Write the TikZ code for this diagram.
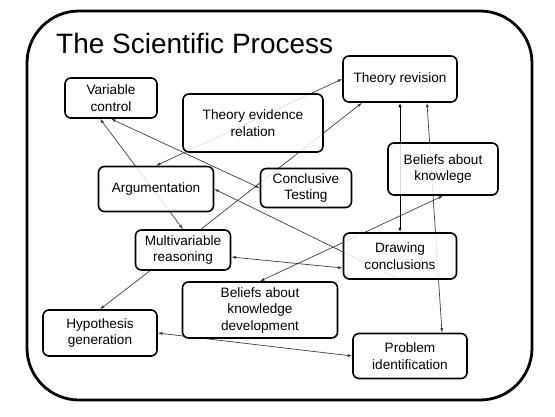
\documentclass[tikz,border=0pt]{standalone}
\usepackage{fontspec}
\setmainfont{Liberation Sans}
\usepackage{tikz}
\usetikzlibrary{arrows.meta, backgrounds}

\begin{document}
\begin{tikzpicture}[
    x=1pt, y=-1pt,
    every node/.style={font=\fontsize{13.6}{16.5}\selectfont},
    stage/.style={draw, line width=1.6pt, rounded corners=6pt, align=center,
                  fill=white, fill opacity=0.85, text opacity=1, inner sep=1pt},
    link/.style={draw=black!75, line width=0.7pt,
                 arrows={-Latex[length=4.5pt, width=3.2pt]}},
    both/.style={link, arrows={Latex[length=4.5pt, width=3.2pt]-Latex[length=4.5pt, width=3.2pt]}},
]
  \useasboundingbox (0,0) rectangle (555,416);
  \draw[line width=2.8pt, rounded corners=52pt] (27,11) rectangle (532,400);
  \node[anchor=base west, inner sep=0pt, font=\fontsize{28}{32}\selectfont] (title)
        at (56,53) {The Scientific Process};

  \node[stage, minimum width=92pt, minimum height=40pt] (varctl) at (111,98) {Variable\\control};
  \node[stage, minimum width=140pt, minimum height=58pt] (terel) at (253,123) {Theory evidence\\relation};
  \node[stage, minimum width=114pt, minimum height=46pt] (threv) at (400,79) {Theory revision};
  \node[stage, minimum width=115pt, minimum height=45pt] (argu) at (156,189) {Argumentation};
  \node[stage, minimum width=91pt, minimum height=39pt] (concl) at (306,188) {Conclusive\\Testing};
  \node[stage, minimum width=110pt, minimum height=52pt] (bknow) at (443,169) {Beliefs about\\knowlege};
  \node[stage, minimum width=95pt, minimum height=40pt] (multi) at (183,250) {Multivariable\\reasoning};
  \node[stage, minimum width=113pt, minimum height=46pt] (drawc) at (400,256) {Drawing\\conclusions};
  \node[stage, minimum width=155pt, minimum height=56pt] (bkdev) at (260,310) {Beliefs about\\knowledge\\development};
  \node[stage, minimum width=114pt, minimum height=46pt] (hypo) at (100,333) {Hypothesis\\generation};
  \node[stage, minimum width=114pt, minimum height=45pt] (probid) at (410,356) {Problem\\identification};

  \begin{scope}[on background layer]
    \fill[white] (0,0) rectangle (555,416);
    \draw[both] (argu.north) -- (threv.west);
    \draw[both] ([xshift=-11pt]varctl.south) -- (multi.north);
    \draw[both] (varctl.south) -- (concl.west);
    \draw[link] (drawc.south) -- (argu.east);
    \draw[link] ([xshift=18pt]multi.north) -- ([xshift=-38pt]threv.south);
    \draw[link] ([xshift=-33pt]multi.south) -- (hypo.north);
    \draw[both] ([yshift=-7pt]multi.east) -- ([yshift=-12pt]drawc.west);
    \draw[both] (bknow.south) -- (bkdev.north);
    \draw[both, draw=black, line width=1pt] (threv.south) -- (drawc.north);
    \draw[both] ([xshift=27pt]threv.south) -- ([xshift=32pt]probid.north);
    \draw[both] (hypo.east) -- (probid.west);
  \end{scope}
\end{tikzpicture}
\end{document}
